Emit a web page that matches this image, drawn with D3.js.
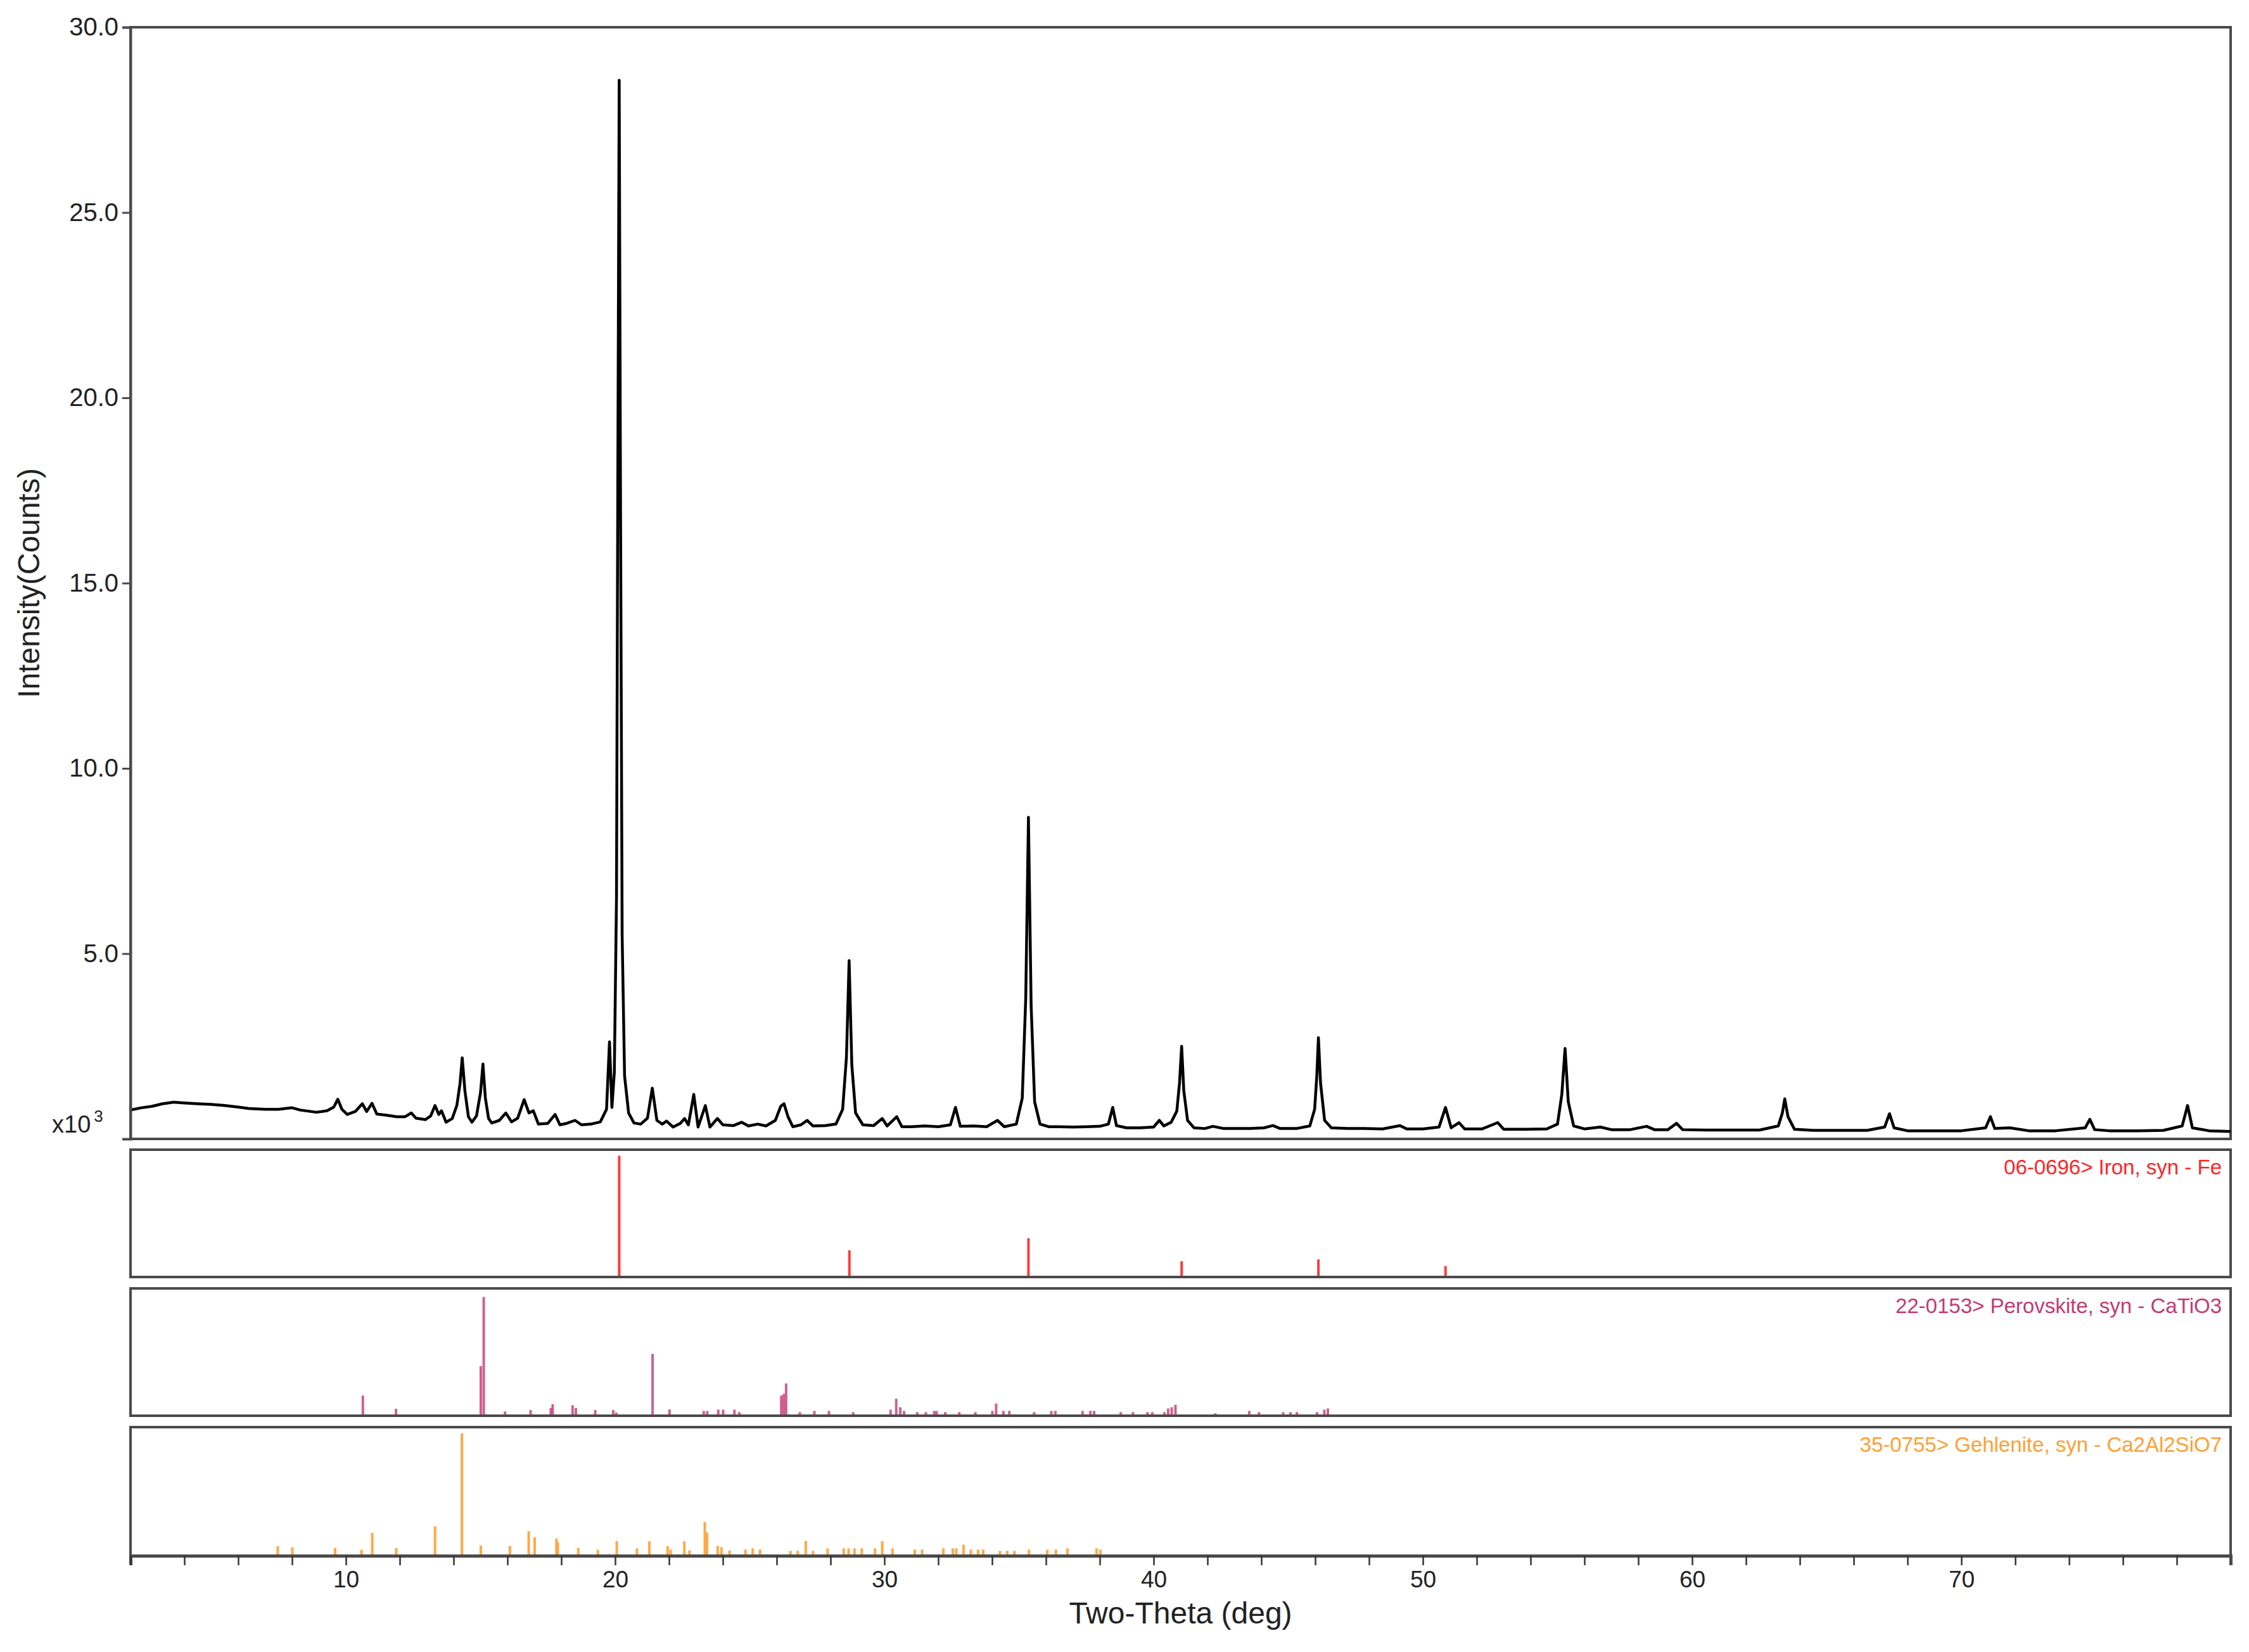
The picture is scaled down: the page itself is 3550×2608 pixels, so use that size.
<!DOCTYPE html>
<html>
<head>
<meta charset="utf-8">
<script src="https://cdn.jsdelivr.net/npm/d3@7"></script>
<style>
  body { margin: 0; background: #fff; }
  text { font-family: "Liberation Sans", Arial, sans-serif; }
</style>
</head>
<body>
<div id="my_dataviz"></div>
<script>
// measured pattern: [two-theta (deg), intensity (x10^3 counts)]
var xrdPattern = [
  [2.0,0.78],[2.4,0.84],[2.8,0.88],[3.2,0.95],[3.6,0.99],[4.0,0.97],[4.5,0.95],[5.0,0.93],[5.5,0.9],[6.0,0.86],
  [6.4,0.82],[7.0,0.8],[7.5,0.8],[8.0,0.84],[8.3,0.78],[8.9,0.72],[9.3,0.76],[9.55,0.86],[9.7,1.07],[9.85,0.8],
  [10.05,0.66],[10.35,0.74],[10.61,0.95],[10.77,0.74],[10.97,0.96],[11.15,0.67],[11.5,0.64],[11.89,0.6],[12.2,0.6],[12.43,0.7],
  [12.6,0.56],[12.95,0.52],[13.15,0.62],[13.31,0.9],[13.45,0.66],[13.55,0.76],[13.72,0.45],[13.95,0.55],[14.12,0.9],[14.24,1.5],
  [14.32,2.19],[14.42,1.3],[14.55,0.6],[14.68,0.45],[14.85,0.62],[15.0,1.25],[15.09,2.02],[15.18,1.1],[15.3,0.55],[15.42,0.43],
  [15.7,0.5],[15.94,0.7],[16.15,0.46],[16.38,0.56],[16.62,1.06],[16.8,0.7],[16.96,0.76],[17.15,0.4],[17.5,0.42],[17.77,0.66],
  [17.95,0.38],[18.2,0.42],[18.51,0.5],[18.75,0.38],[19.1,0.4],[19.45,0.46],[19.68,0.8],[19.79,2.62],[19.88,0.85],[19.97,1.8],
  [20.05,6.5],[20.1,18.0],[20.15,28.57],[20.2,17.0],[20.26,5.5],[20.35,1.7],[20.5,0.7],[20.7,0.43],[20.95,0.4],[21.2,0.56],
  [21.38,1.37],[21.55,0.5],[21.75,0.4],[21.91,0.48],[22.15,0.32],[22.42,0.42],[22.58,0.55],[22.72,0.38],[22.92,1.2],[23.08,0.32],
  [23.35,0.9],[23.52,0.32],[23.8,0.55],[24.0,0.38],[24.4,0.36],[24.7,0.45],[24.95,0.35],[25.3,0.4],[25.6,0.35],[25.95,0.5],
  [26.15,0.88],[26.27,0.95],[26.42,0.6],[26.6,0.33],[26.9,0.38],[27.13,0.5],[27.35,0.35],[27.8,0.36],[28.2,0.4],[28.45,0.8],
  [28.59,2.2],[28.69,4.81],[28.79,2.0],[28.93,0.7],[29.2,0.38],[29.6,0.36],[29.92,0.55],[30.1,0.35],[30.46,0.6],[30.65,0.33],
  [31.0,0.33],[31.5,0.35],[32.0,0.33],[32.45,0.38],[32.64,0.85],[32.82,0.34],[33.3,0.35],[33.8,0.33],[34.2,0.5],[34.45,0.33],
  [34.9,0.4],[35.12,1.1],[35.25,3.8],[35.35,8.68],[35.45,3.6],[35.58,1.0],[35.78,0.4],[36.1,0.33],[36.5,0.33],[37.0,0.32],
  [37.5,0.33],[38.0,0.34],[38.32,0.4],[38.48,0.85],[38.62,0.36],[39.0,0.3],[39.5,0.3],[40.0,0.32],[40.21,0.5],[40.38,0.35],
  [40.65,0.45],[40.86,0.75],[40.96,1.5],[41.04,2.5],[41.12,1.3],[41.26,0.5],[41.5,0.3],[41.9,0.28],[42.2,0.34],[42.6,0.28],
  [43.0,0.28],[43.6,0.28],[44.1,0.3],[44.43,0.36],[44.7,0.28],[45.3,0.28],[45.8,0.35],[45.98,0.8],[46.06,1.7],[46.12,2.73],
  [46.2,1.5],[46.35,0.5],[46.6,0.3],[47.2,0.28],[47.8,0.28],[48.5,0.27],[49.15,0.36],[49.4,0.27],[50.0,0.27],[50.6,0.32],
  [50.84,0.85],[51.05,0.3],[51.34,0.44],[51.55,0.27],[52.2,0.27],[52.78,0.44],[53.0,0.26],[53.8,0.26],[54.6,0.27],[55.0,0.4],
  [55.16,1.2],[55.28,2.44],[55.4,1.0],[55.6,0.35],[56.0,0.27],[56.59,0.32],[57.0,0.25],[57.7,0.25],[58.31,0.34],[58.6,0.25],
  [59.1,0.25],[59.42,0.42],[59.65,0.25],[60.5,0.24],[61.5,0.24],[62.5,0.24],[63.2,0.35],[63.35,0.7],[63.44,1.08],[63.56,0.6],
  [63.8,0.26],[64.5,0.23],[65.5,0.23],[66.5,0.23],[67.15,0.32],[67.33,0.68],[67.5,0.3],[68.0,0.22],[69.0,0.22],[70.0,0.22],
  [70.9,0.3],[71.08,0.6],[71.24,0.28],[71.8,0.3],[72.5,0.22],[73.5,0.22],[74.6,0.3],[74.77,0.53],[74.95,0.25],[75.5,0.22],
  [76.5,0.22],[77.5,0.23],[78.2,0.35],[78.4,0.9],[78.58,0.3],[79.2,0.22],[80.0,0.2]
];

// reference patterns: [two-theta, relative intensity %]
var ironSticks = [[20.15,100],[28.7,22],[35.35,32],[41.04,13],[46.12,14.5],[50.84,9]];

var perovskiteSticks = [
  [10.63,16.6],[11.86,5.7],[15.01,41],[15.12,98],[15.91,3.5],[16.86,4.7],[17.61,6.4],[17.68,9.6],[18.42,8.7],[18.54,6.4],
  [19.26,4.7],[19.93,4.7],[20.04,2.6],[21.39,51],[22.02,5.2],[23.29,4],[23.42,4],[23.83,5],[24.01,5],[24.43,5],
  [24.61,3],[26.17,16.6],[26.26,18],[26.35,26.6],[26.86,3],[27.4,4],[27.94,4],[28.84,3],[30.23,5],[30.44,14],
  [30.59,7],[30.73,4],[31.22,3],[31.54,3],[31.85,4],[31.94,4],[32.26,3],[32.78,3],[33.38,3],[34.01,4],
  [34.15,10],[34.42,4],[34.64,4],[35.56,3],[36.2,4],[36.35,4],[37.36,4],[37.65,4],[37.79,4],[38.78,3],
  [39.23,3],[39.77,3],[39.95,3],[40.4,3],[40.54,6],[40.67,7],[40.81,9],[42.29,2],[43.55,4],[43.91,3],
  [44.81,3],[45.08,3],[45.32,3],[46.07,3],[46.34,5],[46.47,6]
];

var gehleniteSticks = [
  [7.47,7.8],[8.01,6.9],[9.6,6.4],[10.58,4.9],[10.98,18.6],[11.87,6.4],[13.31,24],[14.31,100],[15.01,8.3],[16.09,8],
  [16.79,20],[17.01,15],[17.82,14],[17.87,11],[18.63,6.4],[19.36,4.9],[20.06,12],[20.81,6],[21.27,11.7],[21.95,7.8],
  [22.06,5],[22.57,11.7],[22.76,4.3],[23.33,27.6],[23.41,19],[23.81,8],[23.95,7],[24.25,4.3],[24.84,5],[25.11,6],
  [25.38,5],[26.51,4],[26.78,4],[27.08,12],[27.35,4],[27.89,6],[28.49,6],[28.67,6],[28.89,6],[29.16,6],
  [29.65,6],[29.92,12],[30.3,6],[31.13,5],[31.4,5],[32.19,6],[32.54,6],[32.67,6],[32.94,9],[33.21,5],
  [33.48,5],[33.67,5],[34.29,4],[34.56,4],[34.83,4],[35.37,5],[36.05,5],[36.37,5],[36.8,6],[37.88,6],[38.02,5]
];

var phaseNames = ["06-0696> Iron, syn - Fe", "22-0153> Perovskite, syn - CaTiO3", "35-0755> Gehlenite, syn - Ca2Al2SiO7"];
var phaseColors = ["#ff2626", "#c33a74", "#ffa033"];
var yTicks = [0, 5, 10, 15, 20, 25, 30];
var xTicksMajor = [10, 20, 30, 40, 50, 60, 70];

// set the dimensions of the page and panels
var W = 3550, H = 2608;
var left = 206, right = 3521;
var main = { top: 43, bottom: 1798 };
var panels = [
  { top: 1815, bottom: 2016 },
  { top: 2034, bottom: 2235 },
  { top: 2253, bottom: 2456 }
];
var axisColor = "#4a4a4a";

var svg = d3.select("#my_dataviz")
  .append("svg")
  .attr("width", W)
  .attr("height", H)
  .style("background", "#fff");

// shared X scale
var x = d3.scaleLinear()
  .domain([2, 80])
  .range([left, right]);

// main Y scale
var y = d3.scaleLinear()
  .domain([0, 30])
  .range([main.bottom, main.top]);

// main box
svg.append("rect")
  .attr("x", left)
  .attr("y", main.top)
  .attr("width", right - left)
  .attr("height", main.bottom - main.top)
  .attr("fill", "none")
  .attr("stroke", axisColor)
  .attr("stroke-width", 4);

// Draw the pattern
svg.append("path")
  .datum(xrdPattern)
  .attr("fill", "none")
  .attr("stroke", "#000")
  .attr("stroke-width", 4.5)
  .attr("stroke-linejoin", "round")
  .attr("d", d3.line()
    .x(function (d) { return x(d[0]); })
    .y(function (d) { return y(d[1]); }));

// Add Y axis
var yAxis = svg.append("g")
  .attr("transform", "translate(" + left + ",0)")
  .call(d3.axisLeft(y)
    .tickValues(yTicks)
    .tickSize(13)
    .tickPadding(6)
    .tickFormat(function (d) { return d === 0 ? "" : d.toFixed(1); }));
yAxis.select(".domain").attr("stroke", axisColor).attr("stroke-width", 4);
yAxis.selectAll(".tick line").attr("stroke", axisColor).attr("stroke-width", 3);
yAxis.selectAll(".tick text")
  .attr("fill", "#222")
  .style("font-size", "40px")
  .style("font-family", "'Liberation Sans', Arial, sans-serif");

// x10^3 multiplier
var mult = svg.append("text")
  .attr("x", 82)
  .attr("y", 1788)
  .attr("fill", "#222")
  .style("font-size", "38px");
mult.append("tspan").text("x10");
mult.append("tspan")
  .attr("dx", 5)
  .attr("dy", -17)
  .style("font-size", "26px")
  .text("3");

// Y axis title
svg.append("text")
  .attr("transform", "translate(62," + ((main.top + main.bottom) / 2) + ") rotate(-90)")
  .attr("text-anchor", "middle")
  .attr("fill", "#222")
  .style("font-size", "48px")
  .text("Intensity(Counts)");

// reference stick panels
var sticks = [ironSticks, perovskiteSticks, gehleniteSticks];
panels.forEach(function (p, i) {
  var yp = d3.scaleLinear()
    .domain([0, 105])
    .range([p.bottom, p.top]);

  svg.append("g")
    .selectAll("line")
    .data(sticks[i])
    .enter()
    .append("line")
    .attr("x1", function (d) { return x(d[0]); })
    .attr("x2", function (d) { return x(d[0]); })
    .attr("y1", yp(0))
    .attr("y2", function (d) { return yp(d[1]); })
    .attr("stroke", phaseColors[i])
    .attr("stroke-width", 4)
    .attr("stroke-opacity", i === 1 ? 0.8 : 0.9);

  svg.append("rect")
    .attr("x", left)
    .attr("y", p.top)
    .attr("width", right - left)
    .attr("height", p.bottom - p.top)
    .attr("fill", "none")
    .attr("stroke", axisColor)
    .attr("stroke-width", 4);

  svg.append("text")
    .attr("x", right - 14)
    .attr("y", p.top + 39)
    .attr("text-anchor", "end")
    .attr("fill", phaseColors[i])
    .style("font-size", "33px")
    .text(phaseNames[i]);
});

// Add X axis under the last panel
var last = panels[panels.length - 1];
var xAxis = svg.append("g")
  .attr("transform", "translate(0," + last.bottom + ")")
  .call(d3.axisBottom(x)
    .tickValues(d3.range(2, 80, 2))
    .tickSize(15)
    .tickPadding(9)
    .tickFormat(function (d) { return xTicksMajor.indexOf(d) >= 0 ? d : ""; }));
xAxis.select(".domain").attr("stroke", axisColor).attr("stroke-width", 5);
xAxis.selectAll(".tick line").attr("stroke", "#333").attr("stroke-width", 2.5);
xAxis.selectAll(".tick text")
  .attr("fill", "#222")
  .style("font-size", "37px")
  .style("font-family", "'Liberation Sans', Arial, sans-serif");

// X axis title
svg.append("text")
  .attr("x", (left + right) / 2)
  .attr("y", 2563)
  .attr("text-anchor", "middle")
  .attr("fill", "#222")
  .style("font-size", "48px")
  .text("Two-Theta (deg)");
</script>
</body>
</html>
